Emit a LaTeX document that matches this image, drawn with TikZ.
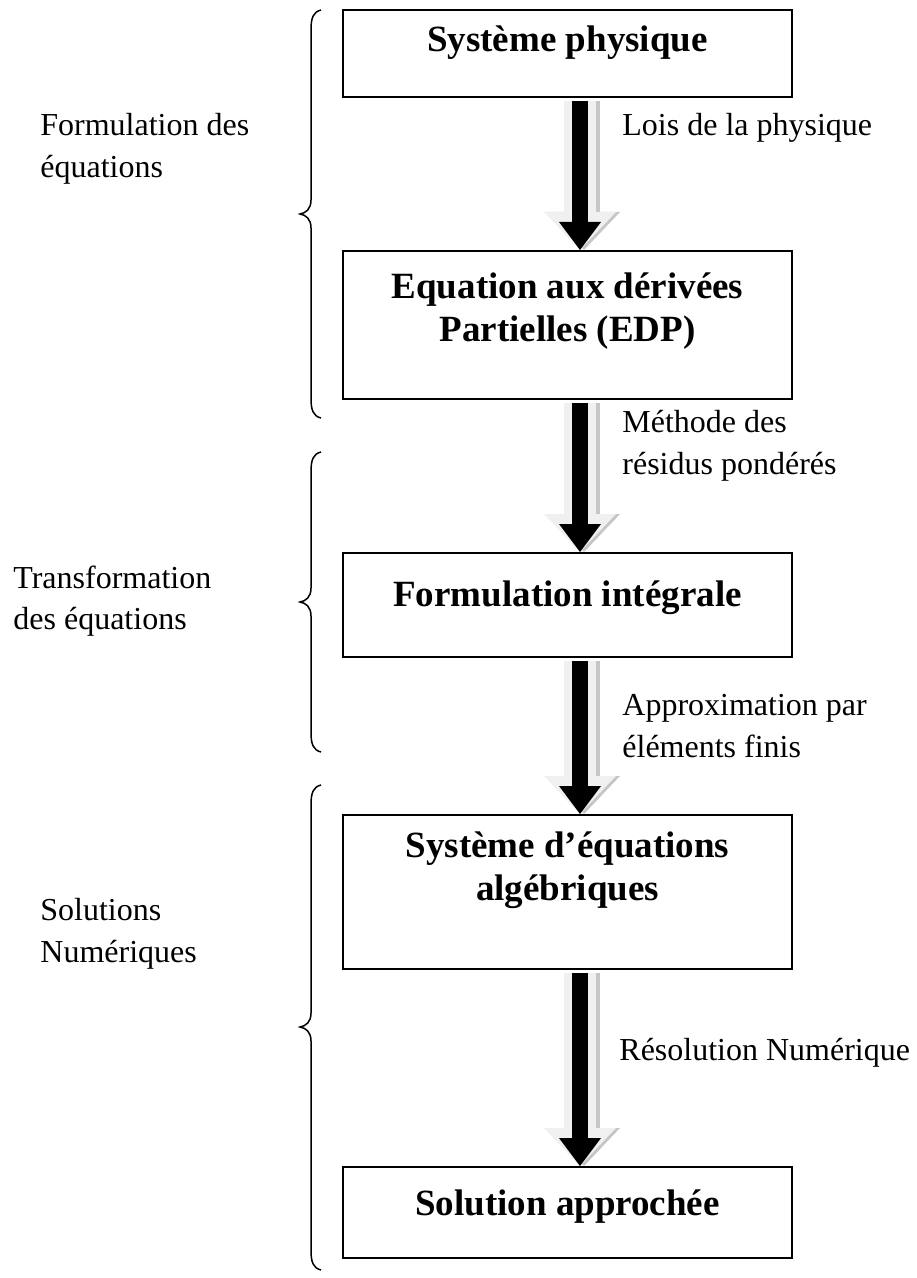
\documentclass[tikz,border=0pt]{standalone}
\usepackage{fontspec}
\setmainfont{Liberation Serif}
\usetikzlibrary{arrows.meta}

\tikzset{
  boite/.style={draw, line width=1pt, minimum width=224.5pt, inner sep=0pt},
  titre/.style={inner sep=0pt, align=center, font=\bfseries\fontsize{18.5}{21.5}\selectfont},
  texte/.style={inner sep=0pt, anchor=west, align=left, font=\fontsize{16}{20.8}\selectfont},
  accolade/.style={line width=0.75pt},
  flecheombre/.style={line width=16pt, draw=gray!45, shorten <=1.5pt,
    -{Triangle[width=36pt, length=19pt, line width=0pt, color=gray!45]}},
  flechefond/.style={line width=16pt, draw=gray!12, shorten <=1.5pt,
    -{Triangle[width=36pt, length=19pt, line width=0pt, color=gray!12]}},
  flechenoire/.style={line width=8pt, draw=black, shorten <=1.5pt,
    -{Triangle[width=21pt, length=14pt, line width=0pt]}}
}

\begin{document}
\begin{tikzpicture}[x=0.5pt, y=-0.5pt]
\useasboundingbox (0,0) rectangle (916,1278);
\coordinate (axe) at (580,0);

% les boites
\node[boite, minimum height=43.5pt] (b1) at (567.5,53.5) {};
\node[boite, minimum height=74pt] (b2) at (567.5,325) {};
\node[boite, minimum height=52pt] (b3) at (567.5,605) {};
\node[boite, minimum height=77pt] (b4) at (567.5,892) {};
\node[boite, minimum height=45.5pt] (b5) at (567.5,1212.5) {};

\node[titre] (t1) at (567.5,43) {Système physique};
\node[titre] (t2) at (567.5,311) {Equation aux dérivées\\Partielles (EDP)};
\node[titre] (t3) at (567.5,598) {Formulation intégrale};
\node[titre] (t4) at (567.5,870) {Système d’équations\\algébriques};
\node[titre] (t5) at (567.5,1207) {Solution approchée};

% les fleches
\foreach \de/\vers in {b1/b2, b2/b3, b3/b4, b4/b5}{
  \draw[flecheombre, transform canvas={xshift=2pt}] (\de.south -| axe) -- (\vers.north -| axe);
  \draw[flechefond] (\de.south -| axe) -- (\vers.north -| axe);
  \draw[flechenoire] (\de.south -| axe) -- (\vers.north -| axe);
}

\node[texte] (l1) at (622,128) {Lois de la physique};
\node[texte] (l2) at (622,446) {Méthode des\\résidus pondérés};
\node[texte] (l3) at (622,726) {Approximation par\\éléments finis};
\node[texte] (l4) at (619,1053) {Résolution Numérique};

% les accolades
\foreach \ha/\mi/\ba in {10/214/418, 452/602/752, 785/1027/1270}{
  \draw[accolade] (321,\ha) .. controls (313,{\ha+2}) and (311,{\ha+8}) .. (311,{\ha+20})
    -- (311,{\mi-14}) .. controls (311,{\mi-5}) and (306,{\mi-1}) .. (300,\mi)
    .. controls (306,{\mi+1}) and (311,{\mi+5}) .. (311,{\mi+14})
    -- (311,{\ba-20}) .. controls (311,{\ba-8}) and (313,{\ba-2}) .. (321,\ba);
}

\node[texte] (g1) at (40,149) {Formulation des\\équations};
\node[texte] (g2) at (13,601) {Transformation\\des équations};
\node[texte] (g3) at (40,934) {Solutions\\Numériques};

\end{tikzpicture}
\end{document}
